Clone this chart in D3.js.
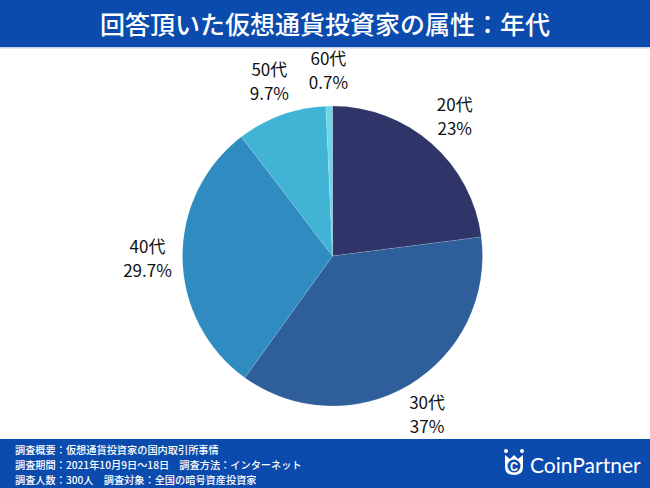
<!DOCTYPE html>
<html>
<head>
<meta charset="utf-8">
<script src="https://cdn.jsdelivr.net/npm/d3@7"></script>
<style>
  html, body { margin: 0; padding: 0; background: #fff; }
  svg { display: block; font-family: "Noto Sans CJK JP", "Noto Sans", sans-serif; }
</style>
</head>
<body>
<svg id="chart" width="650" height="488"></svg>
<script>
// data
const ages = ["20代", "30代", "40代", "50代", "60代"];
const shares = [23, 37, 29.7, 9.7, 0.7];
const shareLabels = ["23%", "37%", "29.7%", "9.7%", "0.7%"];
const sliceColors = ["#2f3469", "#2e5f9a", "#2f8bc0", "#41b4d6", "#6fd6ea"];

const titleText = "回答頂いた仮想通貨投資家の属性：年代";
const footerLines = [
  "調査概要：仮想通貨投資家の国内取引所事情",
  "調査期間：2021年10月9日〜18日　調査方法：インターネット",
  "調査人数：300人　調査対象：全国の暗号資産投資家"
];

const W = 650, H = 488;
const svg = d3.select("#chart");
const blue = "#0b4bae";

// header band
svg.append("rect").attr("x", 0).attr("y", 0).attr("width", W).attr("height", 47).attr("fill", blue);
svg.append("rect").attr("x", 0).attr("y", 47).attr("width", W).attr("height", 1.5).attr("fill", "#c9d6ea");
svg.append("text")
  .attr("x", W / 2).attr("y", 34)
  .attr("text-anchor", "middle")
  .attr("fill", "#fff")
  .attr("font-size", 25)
  .attr("font-weight", 500)
  .text(titleText);

// pie
const cx = 332.5, cy = 256, R = 150;
const rows = ages.map((a, i) => ({ age: a, value: shares[i], pct: shareLabels[i], color: sliceColors[i] }));
const pie = d3.pie().value(d => d.value).sort(null);
const arc = d3.arc().innerRadius(0).outerRadius(R);
const labelArc = d3.arc().innerRadius(185).outerRadius(185);

const g = svg.append("g").attr("transform", `translate(${cx},${cy})`);
const arcs = pie(rows);

g.selectAll("path.slice")
  .data(arcs)
  .join("path")
  .attr("class", "slice")
  .attr("d", arc)
  .attr("fill", d => d.data.color)
  .attr("stroke", "#ffffff")
  .attr("stroke-opacity", 0.25)
  .attr("stroke-width", 0.5);

const lbl = g.selectAll("text.lbl")
  .data(arcs)
  .join("text")
  .attr("class", "lbl")
  .attr("text-anchor", "middle")
  .attr("font-size", 17)
  .attr("fill", "#111")
  .attr("transform", d => `translate(${labelArc.centroid(d)})`);
lbl.append("tspan").attr("x", 0).attr("y", -6).text(d => d.data.age);
lbl.append("tspan").attr("x", 0).attr("y", 18).text(d => d.data.pct);

// footer band
svg.append("rect").attr("x", 0).attr("y", 439).attr("width", W).attr("height", H - 439).attr("fill", blue);
svg.selectAll("text.foot")
  .data(footerLines)
  .join("text")
  .attr("class", "foot")
  .attr("x", 15)
  .attr("y", (d, i) => 454 + i * 15)
  .attr("fill", "#fff")
  .attr("font-size", 10.2)
  .attr("font-weight", 500)
  .text(d => d);

// logo
const logo = svg.append("g").attr("transform", "translate(514,463)");
logo.append("path")
  .attr("d", "M-9,-8 L-9,4 Q-9,12 0,12 Q9,12 9,4 L9,-8 L4,-4 L0,-8 L-4,-4 Z")
  .attr("fill", "#fff");
logo.append("circle").attr("cx", -8).attr("cy", -12).attr("r", 2).attr("fill", "#fff");
logo.append("circle").attr("cx", 8).attr("cy", -12).attr("r", 2).attr("fill", "#fff");
logo.append("circle").attr("cx", 0).attr("cy", 3).attr("r", 6.5).attr("fill", blue);
logo.append("text").attr("x", 0).attr("y", 7.5).attr("text-anchor", "middle")
  .attr("fill", "#fff").attr("font-size", 12).attr("font-weight", 700)
  .attr("font-family", "Roboto, sans-serif").text("C");
svg.append("text")
  .attr("x", 530).attr("y", 473)
  .attr("fill", "#fff")
  .attr("font-size", 21)
  .attr("font-family", "Lato, 'Noto Sans', sans-serif")
  .attr("font-weight", 400)
  .text("CoinPartner");
</script>
</body>
</html>
